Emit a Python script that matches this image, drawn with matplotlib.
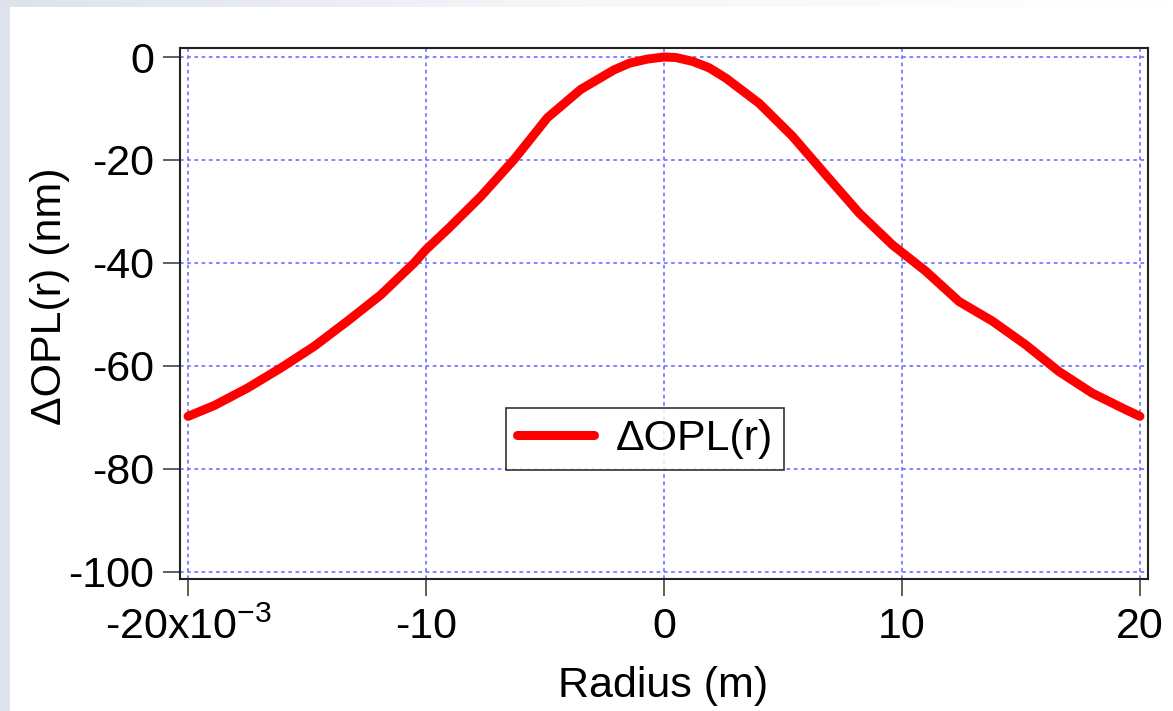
import numpy as np
import matplotlib
matplotlib.use('Agg')
import matplotlib.pyplot as plt

matplotlib.rcParams['font.family'] = ['Liberation Sans', 'DejaVu Sans']
matplotlib.rcParams['font.size'] = 31
matplotlib.rcParams['mathtext.default'] = 'regular'
matplotlib.rcParams['axes.unicode_minus'] = False

# radius in units of 1e-3 m, OPL difference in nm
radius = [-20, -18.9, -17.5, -16.1, -14.7, -13.3, -11.9, -10.5, -10, -9.1, -7.7,
          -6.3, -4.9, -3.5, -2.1, -1.45, -0.7, 0, 0.5, 1.2, 1.9, 2.6, 4.0, 5.4, 6.8,
          8.2, 9.6, 11.0, 12.4, 13.8, 15.2, 16.6, 18.0, 19.4, 20]
dopl = [-69.8, -67.7, -64.3, -60.4, -56.2, -51.3, -46.2, -40.0, -37.4, -33.5, -27.1,
        -19.9, -11.8, -6.3, -2.5, -1.2, -0.4, 0, -0.1, -0.85, -2.1, -4.1, -9.0, -15.4, -22.9,
        -30.3, -36.5, -41.6, -47.5, -51.3, -55.9, -61.1, -65.3, -68.5, -69.8]

xticks = [-20, -10, 0, 10, 20]
xticklabels = ['-20x10$^{-3}$', '-10', '0', '10', '20']
yticks = [0, -20, -40, -60, -80, -100]

W, H = 1173, 711
fig = plt.figure(figsize=(W / 100, H / 100), dpi=100)
fig.patch.set_facecolor('white')

# light window-like border strips (left + fading top)
bg = fig.add_axes([0, 0, 10 / W, 1])
bg.axis('off')
bg.add_patch(plt.Rectangle((0, 0), 1, 1, color='#dfe3ed', transform=bg.transAxes))
top = fig.add_axes([0, 1 - 7 / H, 1, 7 / H])
grad = np.linspace(0, 1, 256)[None, :]
top.imshow(grad, aspect='auto', extent=[0, 1, 0, 1],
           cmap=matplotlib.colors.LinearSegmentedColormap.from_list('g', ['#dde2ec', '#f6f7fa', '#ffffff']))
top.axis('off')

ax = fig.add_axes([180 / W, 1 - 579 / H, (1148 - 180) / W, (579 - 48) / H])
ax.plot(radius, dopl, color='#ff0000', lw=6.5, solid_capstyle='round',
        solid_joinstyle='round', label='ΔOPL(r)')

ax.set_xlim(-20.34, 20.34)
ax.set_ylim(-101.4, 1.75)
ax.set_xticks(xticks)
ax.set_xticklabels(xticklabels)
ax.set_yticks(yticks)
ax.grid(True, color='#7878ff', linestyle=(0, (2, 2)), lw=1.3)
ax.tick_params(direction='out', length=12, width=1.1, color='#333333')
ax.tick_params(axis='x', pad=8.5)
ax.tick_params(axis='y', pad=6.5)
for s in ax.spines.values():
    s.set_linewidth(1.5)
    s.set_color('#222222')

fig.text(663 / W, 1 - 686 / H, 'Radius (m)', ha='center', va='center')
fig.text(50 / W, 1 - 296 / H, 'ΔOPL(r) (nm)', ha='center', va='center', rotation=90)

leg = ax.legend(loc='center', bbox_to_anchor=(645 / W, 1 - 439 / H),
                bbox_transform=fig.transFigure, frameon=True, fancybox=False,
                handlelength=1.8, handletextpad=0.5, borderpad=0.25, borderaxespad=0)
leg.get_frame().set_edgecolor('black')
leg.get_frame().set_linewidth(1.2)

fig.savefig('out.png', dpi=100)
